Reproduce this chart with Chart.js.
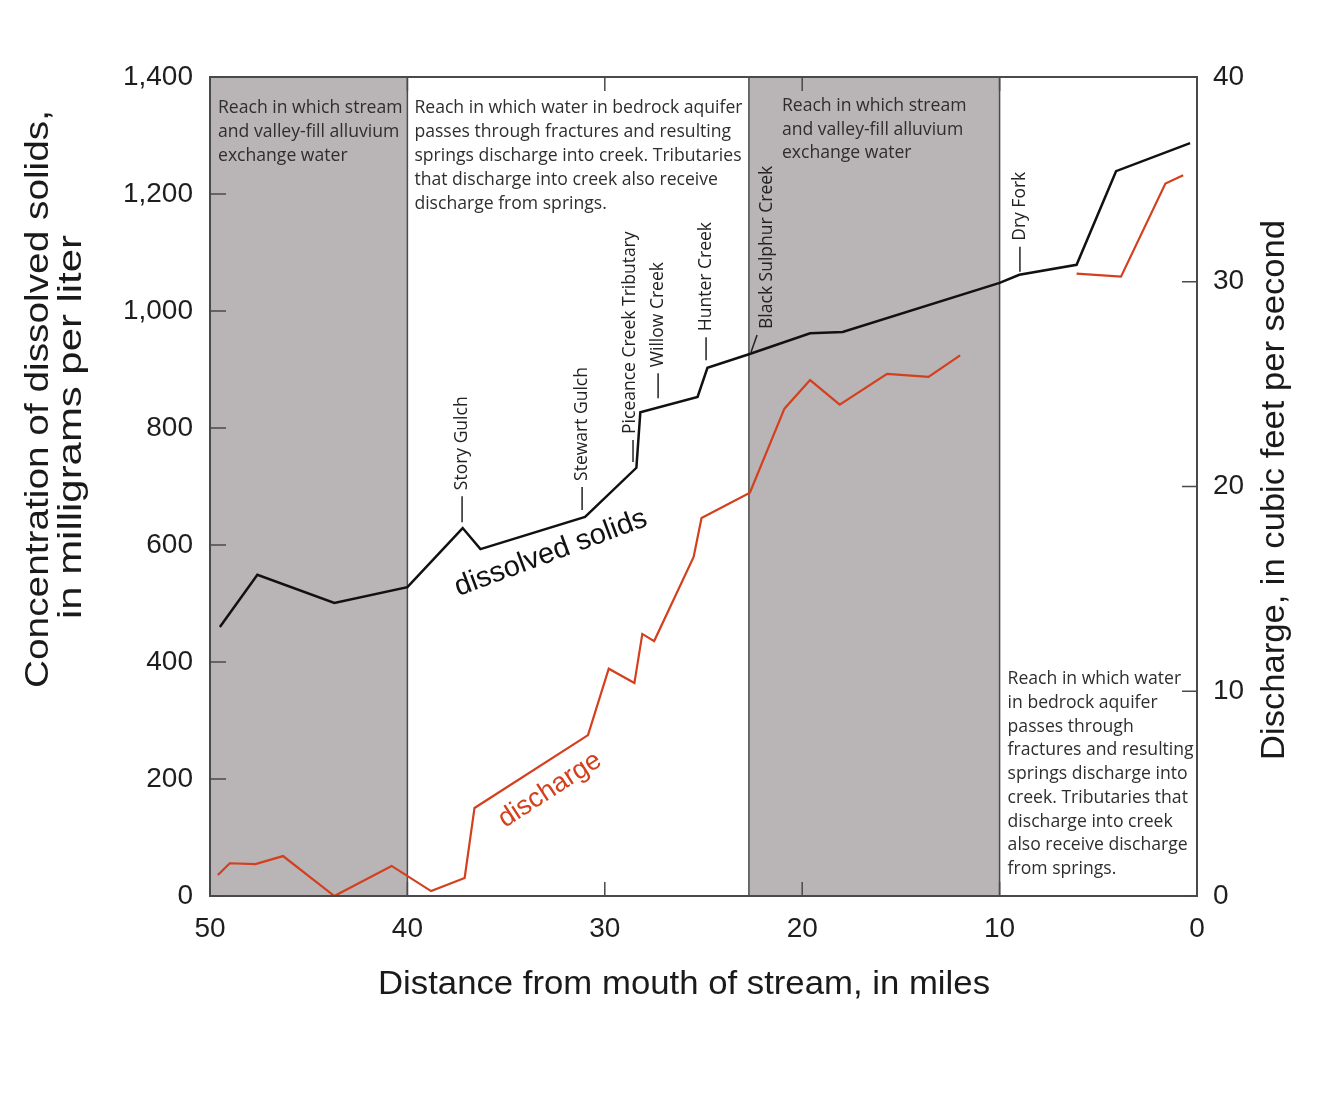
<!DOCTYPE html>
<html>
<head>
<meta charset="utf-8">
<script src="https://cdn.jsdelivr.net/npm/chart.js@4.4.1/dist/chart.umd.min.js"></script>
<style>
  html, body { margin: 0; background: #fff; }
  #wrap { width: 1342px; height: 1115px; }
</style>
</head>
<body>
<div id="wrap"><canvas id="chart" width="1342" height="1115"></canvas></div>
<script>
// distance from mouth (miles) vs dissolved solids (mg/L)
const dsMiles  = [49.5, 47.6, 43.7, 40.0, 37.2, 36.3, 31.0, 28.4, 28.2, 25.3, 24.8, 22.7, 19.6, 17.95, 10.0, 9.0, 6.1, 4.1, 0.35];
const dsValues = [460, 549, 501, 528, 629, 593, 648, 732, 827, 853, 903, 926, 962, 964, 1048, 1062, 1079, 1239, 1287];

// discharge (cfs); null marks the gap in record
const qMiles  = [49.6, 49.0, 47.7, 46.3, 43.7, 40.8, 38.8, 37.1, 36.6, 30.85, 29.8, 28.5, 28.1, 27.5, 25.5, 25.1, 22.65, 20.9, 19.6, 18.1, 15.7, 13.6, 12.0, 9.0, 6.1, 3.85, 1.6, 0.7];
const qValues = [1.03, 1.6, 1.56, 1.95, 0, 1.47, 0.24, 0.88, 4.3, 7.86, 11.1, 10.4, 12.8, 12.45, 16.56, 18.46, 19.7, 23.8, 25.2, 24.0, 25.5, 25.35, 26.4, null, 30.4, 30.25, 34.8, 35.2];

const mileTicks = [50, 40, 30, 20, 10, 0];
const dsTicks = [0, 200, 400, 600, 800, 1000, 1200, 1400];
const qTicks = [0, 10, 20, 30, 40];

// shaded reaches (stream / alluvium exchange), in miles
const shadedFrom = [50, 22.7];
const shadedTo   = [40, 10];
const reachEdges = [40, 22.7, 10];

// tributaries: name, mile, dissolved-solids level at foot of leader
const tribNames  = ['Story Gulch', 'Stewart Gulch', 'Piceance Creek Tributary', 'Willow Creek', 'Hunter Creek', 'Black Sulphur Creek', 'Dry Fork'];
const tribMiles  = [37.23, 31.15, 28.57, 27.3, 24.87, 22.59, 8.97];
const tribLevels = [639, 660, 742, 851, 916, 930, 1067];

const reachNotes = [
  { mile: 50,   dx: 8,  y: 108, step: 24,   lines: ['Reach in which stream', 'and valley-fill alluvium', 'exchange water'] },
  { mile: 40,   dx: 7,  y: 108, step: 24,   lines: ['Reach in which water in bedrock aquifer', 'passes through fractures and resulting', 'springs discharge into creek. Tributaries', 'that discharge into creek also receive', 'discharge from springs.'] },
  { mile: 22.7, dx: 33, y: 106, step: 23.5, lines: ['Reach in which stream', 'and valley-fill alluvium', 'exchange water'] },
  { mile: 10,   dx: 8,  y: 679, step: 23.75, lines: ['Reach in which water', 'in bedrock aquifer', 'passes through', 'fractures and resulting', 'springs discharge into', 'creek. Tributaries that', 'discharge into creek', 'also receive discharge', 'from springs.'] }
];

const TICK_FONT = { family: '"Liberation Sans", Arial, Helvetica, sans-serif', size: 28 };
const NOTE_FONT = '17.6px "Open Sans", "Noto Sans", sans-serif';
const RED = '#d43f1d';

function fitText(ctx, text, x, y, width, rot) {
  ctx.save();
  ctx.translate(x, y);
  ctx.rotate(rot);
  const w = ctx.measureText(text).width;
  ctx.scale(width / w, 1);
  ctx.fillText(text, 0, 0);
  ctx.restore();
}

const decor = {
  id: 'decor',
  beforeDatasetsDraw(chart) {
    const { ctx, chartArea: a, scales: { x } } = chart;
    ctx.save();
    ctx.fillStyle = '#b9b4b6';
    shadedFrom.forEach((m, i) => {
      const x0 = x.getPixelForValue(m), x1 = x.getPixelForValue(shadedTo[i]);
      ctx.fillRect(x0, a.top, x1 - x0, a.bottom - a.top);
    });
    ctx.strokeStyle = '#4a4a4a';
    ctx.lineWidth = 1.5;
    reachEdges.forEach(m => {
      const px = x.getPixelForValue(m);
      ctx.beginPath(); ctx.moveTo(px, a.top); ctx.lineTo(px, a.bottom); ctx.stroke();
    });
    // reach notes
    ctx.fillStyle = '#2e2e2e';
    ctx.font = NOTE_FONT;
    ctx.textBaseline = 'middle';
    ctx.textAlign = 'left';
    reachNotes.forEach(n => {
      const px = x.getPixelForValue(n.mile) + n.dx;
      n.lines.forEach((t, i) => ctx.fillText(t, px, n.y + i * n.step));
    });
    ctx.restore();
  },
  afterDatasetsDraw(chart) {
    const { ctx, chartArea: a, scales: { x, y, y1 } } = chart;
    ctx.save();
    // frame
    ctx.strokeStyle = '#4a4a4a';
    ctx.lineWidth = 2;
    ctx.strokeRect(a.left, a.top, a.right - a.left, a.bottom - a.top);
    // inward ticks
    ctx.lineWidth = 1.5;
    ctx.beginPath();
    mileTicks.forEach(m => {
      const px = x.getPixelForValue(m);
      ctx.moveTo(px, a.bottom); ctx.lineTo(px, a.bottom - 14);
      ctx.moveTo(px, a.top); ctx.lineTo(px, a.top + 14);
    });
    dsTicks.forEach(v => {
      const py = y.getPixelForValue(v);
      ctx.moveTo(a.left, py); ctx.lineTo(a.left + 16, py);
    });
    qTicks.forEach(v => {
      const py = y1.getPixelForValue(v);
      ctx.moveTo(a.right, py); ctx.lineTo(a.right - 15, py);
    });
    ctx.stroke();

    // tributary labels
    const leaderLen = [26, 23, 22, 25, 23, 17, 25];
    const leaderDx  = [0, 0, 0, 0, 0, 6, 0];
    const textDx    = [0, 0, -3, 0, 0, 16, 0];
    ctx.strokeStyle = '#222';
    ctx.fillStyle = '#222';
    ctx.lineWidth = 1.5;
    ctx.font = '17.5px "Open Sans", "Noto Sans", sans-serif';
    ctx.textAlign = 'left';
    ctx.textBaseline = 'middle';
    tribNames.forEach((name, i) => {
      const bx = x.getPixelForValue(tribMiles[i]);
      const by = y.getPixelForValue(tribLevels[i]);
      const ty = by - leaderLen[i];
      ctx.beginPath(); ctx.moveTo(bx, by); ctx.lineTo(bx + leaderDx[i], ty); ctx.stroke();
      ctx.save();
      ctx.translate(bx + textDx[i], ty - 6);
      ctx.rotate(-Math.PI / 2);
      ctx.fillText(name, 0, 0);
      ctx.restore();
    });

    // series labels
    ctx.textAlign = 'center';
    ctx.font = '29px "Liberation Sans", Arial, sans-serif';
    ctx.fillStyle = '#111';
    ctx.save();
    ctx.translate(x.getPixelForValue(32.73), y.getPixelForValue(586));
    ctx.rotate(-20.5 * Math.PI / 180);
    ctx.fillText('dissolved solids', 0, 0);
    ctx.restore();
    ctx.fillStyle = RED;
    ctx.font = '27px "Liberation Sans", Arial, sans-serif';
    ctx.save();
    ctx.translate(x.getPixelForValue(32.78), y1.getPixelForValue(5.18));
    ctx.rotate(-33 * Math.PI / 180);
    ctx.fillText('discharge', 0, 0);
    ctx.restore();

    // axis titles
    ctx.fillStyle = '#1a1a1a';
    ctx.font = '33px "Liberation Sans", Arial, sans-serif';
    fitText(ctx, 'Concentration of dissolved solids,', 39, 399, 578, -Math.PI / 2);
    fitText(ctx, 'in milligrams per liter', 72, 427, 384, -Math.PI / 2);
    fitText(ctx, 'Discharge, in cubic feet per second', 1275, 490, 540, -Math.PI / 2);
    ctx.font = '34px "Liberation Sans", Arial, sans-serif';
    fitText(ctx, 'Distance from mouth of stream, in miles', 684, 985, 612, 0);
    ctx.restore();
  }
};

const ctx = document.getElementById('chart').getContext('2d');
new Chart(ctx, {
  type: 'line',
  data: {
    datasets: [{
      label: 'dissolved solids',
      data: dsMiles.map((m, i) => ({ x: m, y: dsValues[i] })),
      yAxisID: 'y',
      borderColor: '#111',
      borderWidth: 2.5,
      pointRadius: 0,
      tension: 0
    }, {
      label: 'discharge',
      data: qMiles.map((m, i) => ({ x: m, y: qValues[i] })),
      yAxisID: 'y1',
      borderColor: RED,
      borderWidth: 2.2,
      pointRadius: 0,
      tension: 0,
      spanGaps: false
    }]
  },
  options: {
    responsive: false,
    animation: false,
    layout: { padding: { top: 77, left: 0, right: 0, bottom: 0 } },
    plugins: { legend: { display: false }, tooltip: { enabled: false } },
    scales: {
      x: {
        type: 'linear', min: 0, max: 50, reverse: true,
        afterFit: s => { s.height = 219; },
        afterBuildTicks: s => { s.ticks = mileTicks.map(v => ({ value: v })); },
        ticks: { font: TICK_FONT, color: '#1e1e1e', padding: 16, maxRotation: 0 },
        grid: { display: false, drawTicks: false },
        border: { display: false }
      },
      y: {
        position: 'left', min: 0, max: 1400,
        afterFit: s => { s.width = 210; },
        afterBuildTicks: s => { s.ticks = dsTicks.map(v => ({ value: v })); },
        ticks: { font: TICK_FONT, color: '#1e1e1e', padding: 17, callback: v => v.toLocaleString('en-US') },
        grid: { display: false, drawTicks: false },
        border: { display: false }
      },
      y1: {
        position: 'right', min: 0, max: 40,
        afterFit: s => { s.width = 145; },
        afterBuildTicks: s => { s.ticks = qTicks.map(v => ({ value: v })); },
        ticks: { font: TICK_FONT, color: '#1e1e1e', padding: 16 },
        grid: { display: false, drawTicks: false },
        border: { display: false }
      }
    }
  },
  plugins: [decor]
});
</script>
</body>
</html>
